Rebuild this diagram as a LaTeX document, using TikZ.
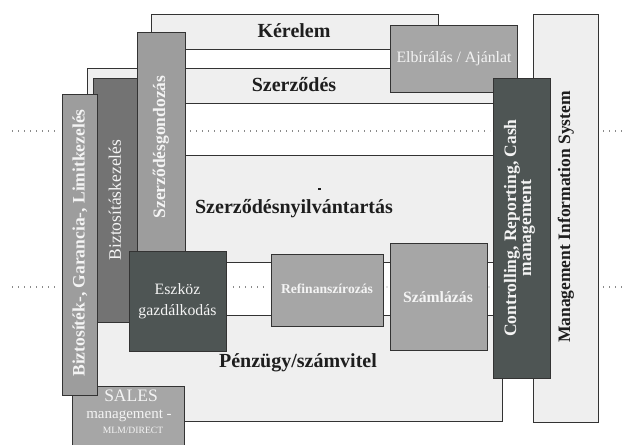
\documentclass[tikz,border=0pt]{standalone}
\usepackage{fontspec}
\setmainfont{Liberation Serif}
\definecolor{lightf}{HTML}{EFEFEF}
\definecolor{edge}{HTML}{333333}
\definecolor{midg}{HTML}{A6A6A6}
\definecolor{bizg}{HTML}{9D9D9D}
\definecolor{darkg}{HTML}{737373}
\definecolor{vdark}{HTML}{4E5554}
\definecolor{dotc}{HTML}{8A8A8A}
\definecolor{txtd}{HTML}{1E1E1E}
\definecolor{txtl}{HTML}{F4F4F4}
\begin{document}
\begin{tikzpicture}[x=1pt,y=-1pt,
  box/.style={draw=edge,line width=1pt,inner sep=0pt,outer sep=0pt,anchor=north west},
  lbox/.style={box,fill=lightf},
  dots/.style={dotc,line width=1.1pt,dash pattern=on 1.1pt off 4.9pt},
  head/.style={text=txtd,font=\bfseries\fontsize{20}{22}\selectfont,inner sep=0pt},
  vt/.style={rotate=90,text=txtl,font=\bfseries\fontsize{17.5}{17.5}\selectfont,inner sep=0pt},
  wt/.style={text=txtl,inner sep=0pt}]
\useasboundingbox[fill=white] (0,0) rectangle (625,445);

% background bands
\node[lbox,minimum width=65pt,minimum height=408pt] (mis) at (533,14) {};
\node[lbox,minimum width=287pt,minimum height=35pt] (ker) at (151,14) {};
\node[lbox,minimum width=423pt,minimum height=35pt] (szer) at (87,68) {};
\node[lbox,minimum width=415pt,minimum height=266pt] (big) at (87,155) {};
\node[inner sep=0pt,outer sep=0pt,fill=white,minimum width=267pt,minimum height=53pt,anchor=north west] (chan) at (226,262) {};
\draw[edge,line width=1pt] (chan.north west) -- (chan.north east);
\draw[edge,line width=1pt] (chan.south west) -- (chan.south east);

% dotted separators
\coordinate (d1a) at (12,131); \coordinate (d1b) at (56,131);
\coordinate (d2a) at (190,131); \coordinate (d2b) at (490,131);
\coordinate (d3a) at (603,131); \coordinate (d3b) at (625,131);
\coordinate (d4a) at (12,287); \coordinate (d4b) at (56,287);
\coordinate (d5a) at (233,287); \coordinate (d5b) at (268,287);
\coordinate (d6a) at (603,287); \coordinate (d6b) at (625,287);
\draw[dots] (d1a) -- (d1b);
\draw[dots] (d2a) -- (d2b);
\draw[dots] (d3a) -- (d3b);
\draw[dots] (d4a) -- (d4b);
\draw[dots] (d5a) -- (d5b);
\draw[dots] (d6a) -- (d6b);
\fill[dotc] (387,287) circle (0.6pt);
\fill[dotc] (489,287) circle (0.6pt);

% vertical bars
\node[box,fill=darkg,minimum width=44pt,minimum height=244pt] (bizk) at (93,78) {};
\node[box,fill=bizg,minimum width=48pt,minimum height=228pt] (gond) at (137,32) {};
\node[box,fill=midg,minimum width=112pt,minimum height=62pt] (sales) at (72,386) {};
\node[box,fill=bizg,minimum width=35pt,minimum height=301pt] (bizt) at (62,94) {};
\node[box,fill=midg,minimum width=127pt,minimum height=67pt] (elb) at (390,25) {};
\node[box,fill=vdark,minimum width=57pt,minimum height=300pt] (ctrl) at (493,78) {};
\node[box,fill=vdark,minimum width=97pt,minimum height=100pt] (esz) at (129,251) {};
\node[box,fill=midg,minimum width=112pt,minimum height=72pt] (ref) at (271,254) {};
\node[box,fill=midg,minimum width=97pt,minimum height=107pt] (szam) at (390,243) {};

% texts
\node[head] (tker) at (294,31) {Kérelem};
\node[head] (tszer) at (294,85) {Szerződés};
\node[head] (tnyil) at (294,209) {Szerződésnyilvántartás};
\node[head] (tpenz) at (298,363) {Pénzügy/számvitel};
\draw[txtd,line width=1.2pt] (318,189) -- (320.5,189);

\node[vt] (tbizt) at (80,243) {Biztosíték-, Garancia-, Limitkezelés};
\node[vt,font=\fontsize{17.5}{17.5}\selectfont] (tbizk) at (115,200) {Biztosításkezelés};
\node[vt] (tgond) at (161,147) {Szerződésgondozás};
\node[vt,align=center,font=\bfseries\fontsize{17.5}{15}\selectfont] (tctrl) at (519.5,228) {Controlling, Reporting, Cash\\management};
\node[vt,text=txtd] (tmis) at (566,217) {Management Information System};

\node[wt,font=\fontsize{15.8}{17}\selectfont] (telb) at (454,59) {Elbírálás / Ajánlat};
\node[wt,align=center,font=\fontsize{15.8}{21}\selectfont] (tesz) at (177.5,301) {Eszköz\\gazdálkodás};
\node[wt,font=\bfseries\fontsize{13.6}{15}\selectfont] (tref) at (327,289) {Refinanszírozás};
\node[wt,font=\bfseries\fontsize{15.7}{17}\selectfont] (tszam) at (438,297) {Számlázás};
\node[wt,font=\fontsize{17.5}{18}\selectfont] (ts1) at (131,396) {SALES};
\node[wt,font=\fontsize{15}{16}\selectfont] (ts2) at (129,415.5) {management -};
\node[wt,font=\fontsize{9.6}{11}\selectfont] (ts3) at (133,430) {MLM/DIRECT};
\end{tikzpicture}
\end{document}
